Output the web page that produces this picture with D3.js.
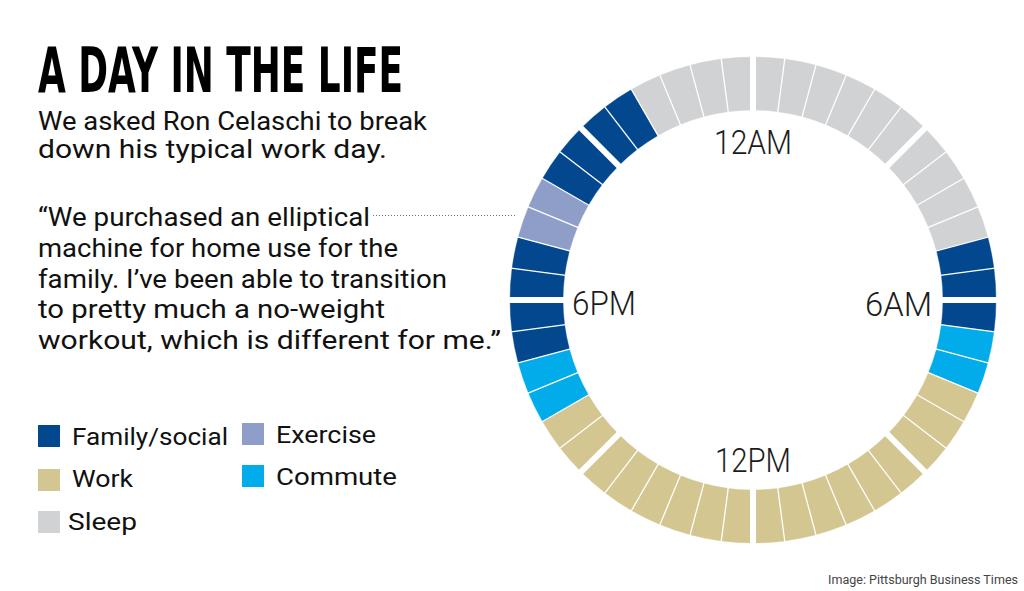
<!DOCTYPE html>
<html>
<head>
<meta charset="utf-8">
<script src="https://cdn.jsdelivr.net/npm/d3@7"></script>
<style>
  html, body { margin: 0; padding: 0; background: #fff; }
  svg { display: block; }
  text { font-family: Roboto, "Noto Sans", sans-serif; fill: #111; }
</style>
</head>
<body>
<svg id="chart" width="1024" height="591"></svg>
<script>
// ---------------- DATA ----------------
const categories = ["Family/social", "Work", "Sleep", "Exercise", "Commute"];
const categoryColors = ["#03488f", "#d3c690", "#d1d2d4", "#8f9ec9", "#02acea"];

// One entry per half hour, starting at 12AM, going clockwise
const schedule = [
  // 12AM - 3AM
  "Sleep","Sleep","Sleep","Sleep","Sleep","Sleep",
  // 3AM - 6AM
  "Sleep","Sleep","Sleep","Sleep","Family/social","Family/social",
  // 6AM - 9AM
  "Family/social","Commute","Commute","Work","Work","Work",
  // 9AM - 12PM
  "Work","Work","Work","Work","Work","Work",
  // 12PM - 3PM
  "Work","Work","Work","Work","Work","Work",
  // 3PM - 6PM
  "Work","Work","Commute","Commute","Family/social","Family/social",
  // 6PM - 9PM
  "Family/social","Family/social","Exercise","Exercise","Family/social","Family/social",
  // 9PM - 12AM
  "Family/social","Family/social","Sleep","Sleep","Sleep","Sleep"
];

const hourLabels = ["12AM", "6AM", "12PM", "6PM"];

const titleText = "A DAY IN THE LIFE";
const subtitleLines = ["We asked Ron Celaschi to break", "down his typical work day."];
const quoteLines = [
  "\u201CWe purchased an elliptical",
  "machine for home use for the",
  "family. I\u2019ve been able to transition",
  "to pretty much a no-weight",
  "workout, which is different for me.\u201D"
];
const creditText = "Image: Pittsburgh Business Times";

// ---------------- LAYOUT ----------------
const svg = d3.select("#chart");
const cx = 753, cy = 300, rIn = 190, rOut = 243;

const color = d3.scaleOrdinal().domain(categories).range(categoryColors);
const angle = d3.scaleLinear().domain([0, schedule.length]).range([0, 2 * Math.PI]);

const ring = svg.append("g").attr("transform", `translate(${cx},${cy})`);
const arc = d3.arc().innerRadius(rIn).outerRadius(rOut);

ring.selectAll("path.slot")
  .data(schedule)
  .join("path")
  .attr("class", "slot")
  .attr("d", (d, i) => arc({ startAngle: angle(i), endAngle: angle(i + 1) }))
  .attr("fill", d => color(d))
  .attr("stroke", d => color(d))
  .attr("stroke-width", 0.4);

// separators: thin every half hour, wide every three hours
ring.selectAll("line.sep")
  .data(d3.range(schedule.length))
  .join("line")
  .attr("class", "sep")
  .attr("x1", i => Math.sin(angle(i)) * (rIn - 3))
  .attr("y1", i => -Math.cos(angle(i)) * (rIn - 3))
  .attr("x2", i => Math.sin(angle(i)) * (rOut + 3))
  .attr("y2", i => -Math.cos(angle(i)) * (rOut + 3))
  .attr("stroke", "#fff")
  .attr("stroke-width", i => (i % 6 === 0 ? 6 : 1.3));

// hour labels inside ring
const labelPos = [
  { x: 0, y: -146, anchor: "middle", len: 78 },
  { x: 179, y: 16, anchor: "end", len: 67 },
  { x: 0, y: 172, anchor: "middle", len: 76 },
  { x: -181, y: 15, anchor: "start", len: 64 }
];
ring.selectAll("text.hour")
  .data(hourLabels)
  .join("text")
  .attr("class", "hour")
  .attr("x", (d, i) => labelPos[i].x)
  .attr("y", (d, i) => labelPos[i].y)
  .attr("text-anchor", (d, i) => labelPos[i].anchor)
  .attr("font-size", 34)
  .attr("font-weight", 300)
  .attr("textLength", (d, i) => labelPos[i].len)
  .attr("lengthAdjust", "spacingAndGlyphs")
  .style("fill", "#1c1c1c")
  .text(d => d);

// ---------------- TEXT ----------------
svg.append("text")
  .attr("x", 38).attr("y", 92)
  .attr("font-size", 62)
  .attr("font-weight", 700)
  .style("font-family", "'Liberation Sans Narrow', 'DejaVu Sans Condensed', 'Liberation Sans', sans-serif")
  .attr("textLength", 365)
  .attr("lengthAdjust", "spacingAndGlyphs")
  .style("fill", "#000")
  .text(titleText);

const subWidths = [389, 349];
svg.selectAll("text.sub")
  .data(subtitleLines)
  .join("text")
  .attr("class", "sub")
  .attr("x", 38)
  .attr("y", (d, i) => 130 + i * 28)
  .attr("font-size", 25)
  .attr("textLength", (d, i) => subWidths[i])
  .attr("lengthAdjust", "spacingAndGlyphs")
  .text(d => d);

const quoteWidths = [332, 360, 409, 347, 463];
svg.selectAll("text.quote")
  .data(quoteLines)
  .join("text")
  .attr("class", "quote")
  .attr("x", 38)
  .attr("y", (d, i) => 226 + i * 30.8)
  .attr("font-size", 26)
  .attr("textLength", (d, i) => quoteWidths[i])
  .attr("lengthAdjust", "spacingAndGlyphs")
  .text(d => d);

// dotted leader line
svg.append("line")
  .attr("x1", 373).attr("x2", 515)
  .attr("y1", 215.5).attr("y2", 215.5)
  .attr("stroke", "#777")
  .attr("stroke-width", 1)
  .attr("stroke-dasharray", "1,2");

// ---------------- LEGEND ----------------
const legendOrder = ["Family/social", "Work", "Sleep", "Exercise", "Commute"];
const legendPos = {
  "Family/social": { sx: 38, sy: 425, tx: 72, ty: 445, w: 156 },
  "Work":          { sx: 38, sy: 469, tx: 72, ty: 487, w: 61 },
  "Sleep":         { sx: 38, sy: 511, tx: 68, ty: 530, w: 69 },
  "Exercise":      { sx: 242, sy: 423, tx: 276, ty: 443, w: 100 },
  "Commute":       { sx: 242, sy: 465, tx: 276, ty: 485, w: 121 }
};
const legend = svg.append("g");
legend.selectAll("rect")
  .data(legendOrder)
  .join("rect")
  .attr("x", d => legendPos[d].sx)
  .attr("y", d => legendPos[d].sy)
  .attr("width", 22).attr("height", 22)
  .attr("fill", d => color(d));
legend.selectAll("text")
  .data(legendOrder)
  .join("text")
  .attr("x", d => legendPos[d].tx)
  .attr("y", d => legendPos[d].ty)
  .attr("font-size", 24)
  .attr("textLength", d => legendPos[d].w)
  .attr("lengthAdjust", "spacingAndGlyphs")
  .text(d => d);

// credit
svg.append("text")
  .attr("x", 1018).attr("y", 584)
  .attr("text-anchor", "end")
  .attr("font-size", 12.5)
  .attr("textLength", 190)
  .attr("lengthAdjust", "spacingAndGlyphs")
  .style("fill", "#444")
  .text(creditText);
</script>
</body>
</html>
